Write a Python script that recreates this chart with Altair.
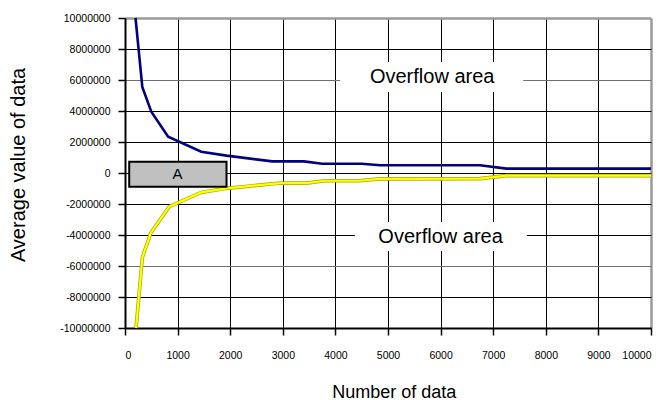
import altair as alt
import pandas as pd

# ---- data ----
x_ticks = list(range(0, 10001, 1000))
y_ticks = list(range(-10000000, 10000001, 2000000))

upper_x = [200, 330, 500, 820, 1450, 1930, 2800, 3400, 3750, 4500, 4850, 6750, 7250, 10000]
upper_y = [10000000, 5530000, 3950000, 2340000, 1370000, 1120000, 750000, 750000,
           600000, 600000, 500000, 500000, 280000, 280000]

lower_x = [210, 330, 490, 840, 1450, 1930, 2950, 3450, 3800, 4450, 4850, 6750, 7250, 10000]
lower_y = [-10000000, -5440000, -3870000, -2170000, -1250000, -990000, -650000, -650000,
           -500000, -500000, -380000, -360000, -170000, -170000]

box_label = ["A"]
box_x0 = [80]
box_x1 = [1930]
box_y0 = [-880000]
box_y1 = [730000]
box_cx = [1000]
box_cy = [-75000]

area_text = ["Overflow area", "Overflow area"]
area_x = [5840, 6000]
area_y = [5800000, -4520000]
mask_x0 = [4090, 4370]
mask_x1 = [7570, 7640]
mask_y0 = [5230000, -5030000]
mask_y1 = [7160000, -3160000]

FONT = "Liberation Sans"

upper_df = pd.DataFrame({"x": upper_x, "y": upper_y})
lower_df = pd.DataFrame({"x": lower_x, "y": lower_y})
box_df = pd.DataFrame({"x": box_x0, "x2": box_x1, "y": box_y0, "y2": box_y1,
                       "cx": box_cx, "cy": box_cy, "label": box_label})
text_df = pd.DataFrame({"x": area_x, "y": area_y, "label": area_text})
mask_df = pd.DataFrame({"x": mask_x0, "x2": mask_x1, "y": mask_y0, "y2": mask_y1})

xscale = alt.Scale(domain=[0, 10000], nice=False, zero=False)
yscale = alt.Scale(domain=[-10000000, 10000000], nice=False, zero=False)

x_axis = alt.Axis(
    values=x_ticks, title="Number of data", grid=True,
    gridColor={"condition": {"test": "datum.value == 10000", "value": "#9a9a9a"}, "value": "#000000"},
    gridWidth={"condition": {"test": "datum.value == 10000", "value": 2.5}, "value": 1},
    labelExpr="'' + datum.value", labelPadding=15,
    titleX=268.7, titleY=69, titleBaseline="alphabetic", titleAlign="center",
    titleFontSize=18,
)
y_axis = alt.Axis(
    values=y_ticks, title="Average value of data", grid=True,
    gridColor={"condition": [
        {"test": "datum.value == 10000000", "value": "#9a9a9a"},
        {"test": "abs(datum.value) == 6000000", "value": "#707070"}],
        "value": "#000000"},
    gridWidth={"condition": {"test": "datum.value == 10000000", "value": 2.5}, "value": 1},
    labelExpr="'' + datum.value", labelPadding=8,
    titleX=-107, titleY=146.5, titleAngle=270, titleAlign="center",
    titleBaseline="middle", titleFontSize=20,
)


def X(field):
    return alt.X(f"{field}:Q", scale=xscale, axis=x_axis)


def Y(field):
    return alt.Y(f"{field}:Q", scale=yscale, axis=y_axis)


masks = alt.Chart(mask_df).mark_rect(color="white", opacity=1).encode(
    x=X("x"), x2="x2", y=Y("y"), y2="y2")

area_labels = alt.Chart(text_df).mark_text(
    font=FONT, fontSize=20, color="black", align="center", baseline="alphabetic"
).encode(x=X("x"), y=Y("y"), text="label:N")

upper_line = alt.Chart(upper_df).mark_line(color="#000080", strokeWidth=2.6).encode(
    x=X("x"), y=Y("y"))

lower_edge = alt.Chart(lower_df).mark_line(color="#a8a800", strokeWidth=3.6).encode(
    x=X("x"), y=Y("y"))
lower_line = alt.Chart(lower_df).mark_line(color="#ffff00", strokeWidth=2.2).encode(
    x=X("x"), y=Y("y"))

box = alt.Chart(box_df).mark_rect(fill="#c0c0c0", stroke="black", strokeWidth=2).encode(
    x=X("x"), x2="x2", y=Y("y"), y2="y2")
box_text = alt.Chart(box_df).mark_text(
    font=FONT, fontSize=15, color="black", align="center", baseline="middle"
).encode(x=X("cx"), y=Y("cy"), text="label:N")

chart = alt.layer(
    masks, area_labels, upper_line, lower_edge, lower_line, box, box_text
).properties(
    width=526, height=310,
    autosize=alt.AutoSizeParams(type="none"),
    padding={"left": 117, "top": 10, "right": 8, "bottom": 72},
    background="white",
).configure_view(stroke=None).configure_axis(
    domainColor="black", domainWidth=2,
    tickColor="black", tickWidth=1.5, tickSize=7,
    labelFont=FONT, labelFontSize=10.5, labelColor="black",
    titleFont=FONT, titleColor="black", titleFontWeight="normal",
)

chart.save("out.html", embed_options={"renderer": "svg", "actions": False})
